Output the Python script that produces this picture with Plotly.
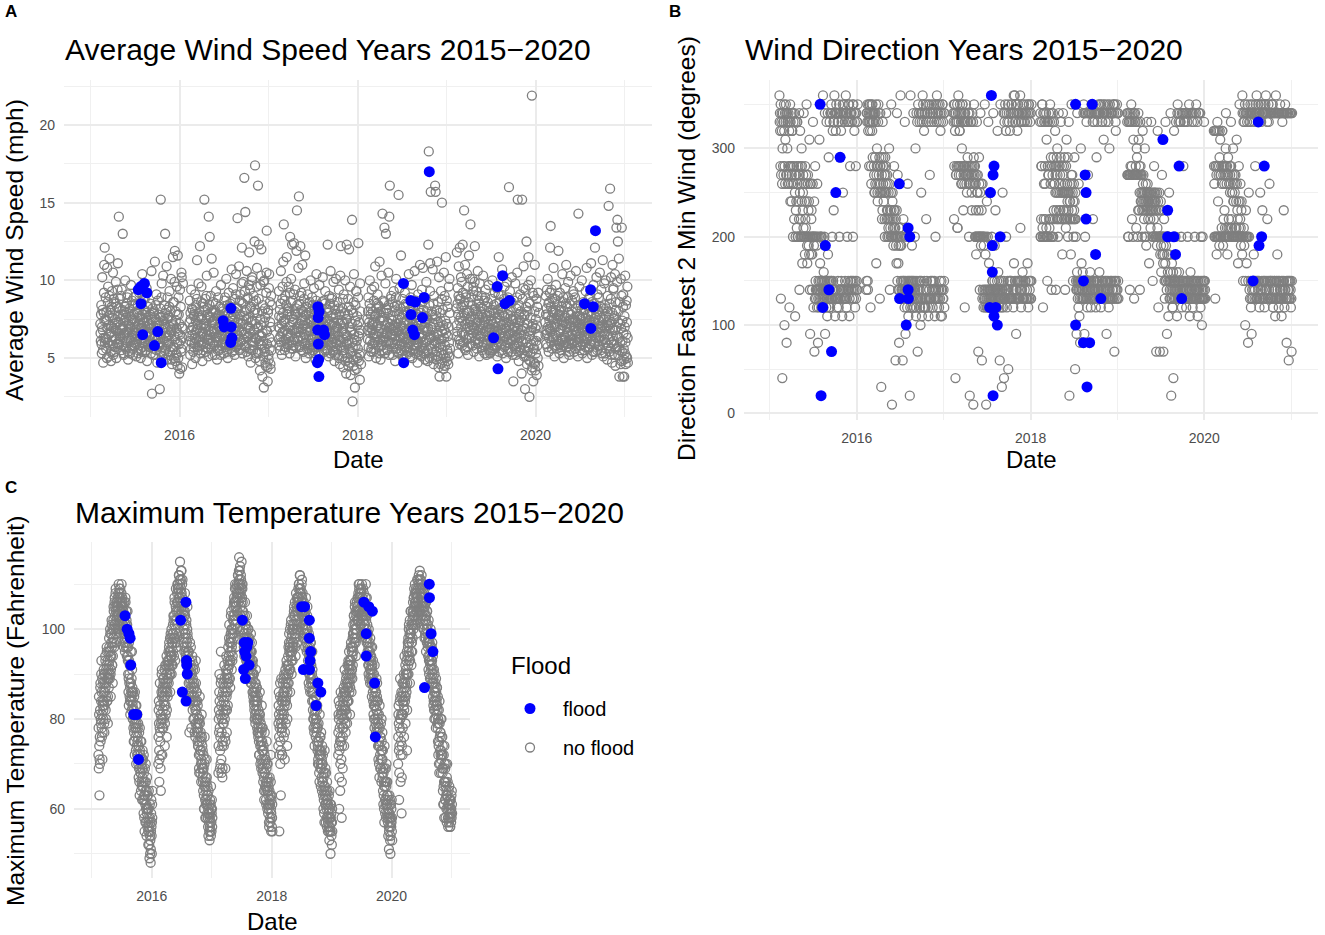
import numpy as np
import pandas as pd
import plotly.graph_objects as go

# ---------------- style ----------------
FONT = "Liberation Sans, Arial, sans-serif"
GRAY = "#7F7F7F"
BLUE = "#0000FF"
TICK_COLOR = "#4D4D4D"
GRID_MAJOR = "#EBEBEB"
GRID_MINOR = "#F0F0F0"

# ---------------- data ----------------
YEARS = [2015, 2016, 2017, 2018, 2019, 2020]
SEASON_START = "02-10"  # first daily reading kept for each year
STEP_DAYS = 1

# A: average wind speed (mph), daily from SEASON_START
WIND_2015 = [7.2, 6.6, 6.1, 7.8, 8.4, 5.9, 5.3, 7.0, 10.2, 8.1, 6.8, 5.5, 4.7, 6.3, 7.9, 9.2, 11.0, 7.4, 12.1, 6.0,
             6.3, 7.5, 8.9, 6.2, 5.6, 8.0, 7.4, 5.0, 10.8, 6.9, 6.0, 8.6, 9.6, 7.1, 5.1, 6.5, 7.7, 9.0, 11.4, 5.8,
             6.6, 7.9, 8.1, 5.4, 4.8, 6.7, 7.0, 8.3, 9.3, 6.1, 5.8, 7.6, 10.5, 5.2, 6.9, 8.8, 8.6, 6.4, 5.4, 7.2,
             7.5, 5.7, 6.2, 8.5, 9.9, 6.8, 5.0, 7.3, 8.3, 5.9, 6.7, 9.4, 11.1, 6.0, 7.3, 8.2, 14.1, 6.6, 5.9, 7.7,
             8.8, 6.2, 6.4, 7.5, 7.1, 9.0, 5.5, 6.8, 9.4, 5.8, 6.9, 8.1, 13.0, 7.0, 7.8, 5.3, 5.2, 6.6, 8.0, 7.4,
             6.5, 8.3, 10.0, 6.0, 7.6, 5.6, 5.7, 7.9, 8.5, 6.7, 6.1, 8.9, 9.1, 5.4, 4.9, 7.1, 7.2, 6.3, 6.8, 8.0,
             8.2, 6.9, 5.3, 7.7, 7.0, 6.1, 9.7, 5.8, 6.3, 7.4, 8.7, 6.5, 5.6, 8.4, 7.5, 5.2, 6.0, 7.8, 8.9, 6.6,
             5.8, 7.0, 7.4, 6.2, 6.6, 8.5, 9.0, 5.9, 5.1, 6.8, 7.9, 6.0, 6.4, 7.6, 8.4, 5.3, 5.5, 7.2, 7.1, 8.1,
             9.2, 6.4, 6.2, 7.5, 7.7, 5.6, 5.0, 6.9, 8.6, 7.1, 6.9, 5.4, 10.4, 7.8, 5.7, 6.3, 7.3, 8.8, 8.1, 6.0,
             6.0, 7.3, 8.8, 6.1, 5.4, 8.0, 7.6, 5.5, 6.5, 7.9, 9.5, 6.6, 4.8, 7.4, 7.0, 5.8, 8.3, 6.7, 5.9, 7.1,
             3.9, 6.4, 7.2, 5.7, 6.1, 7.8, 8.5, 6.0, 5.3, 6.9, 10.6, 7.5, 2.7, 5.9, 6.8, 8.2, 7.9, 5.2, 5.6, 7.0,
             8.0, 5.8, 6.4, 7.6, 11.2, 6.3, 5.2, 8.4, 7.5, 6.1, 9.1, 5.5, 6.7, 7.3, 4.7, 6.9, 8.7, 5.9, 6.2, 7.8,
             7.3, 6.0, 5.8, 7.1, 3.0, 6.5, 8.2, 5.4, 15.2, 7.6, 6.6, 8.9, 9.8, 5.7, 5.1, 6.8, 7.7, 6.2, 10.3, 7.4,
             6.9, 5.3, 8.4, 7.2, 5.5, 6.6, 13.0, 7.9, 7.0, 5.6, 6.3, 8.1, 10.9, 6.0, 4.9, 7.5, 8.9, 6.4, 5.9, 7.7,
             7.6, 5.2, 6.1, 8.3, 9.3, 6.5, 5.4, 7.0, 8.0, 5.7, 10.1, 6.8, 6.7, 4.9, 4.6, 7.4, 7.2, 5.5, 11.5, 8.6,
             5.7, 7.1, 8.6, 5.0, 6.4, 9.9, 11.9, 6.2, 4.8, 8.0, 7.4, 5.3, 5.2, 6.9, 9.6, 7.8, 6.0, 4.5, 11.6, 6.6,
             5.0, 8.9, 7.8, 5.9, 4.0, 7.2, 6.5, 9.4, 4.3, 6.1, 8.3, 5.4, 5.6, 10.5, 10.2, 7.0, 4.4, 6.3, 6.9, 9.8]
WIND_2016 = [6.4, 7.3, 8.7, 6.1, 5.2, 7.9, 7.5, 5.6, 9.4, 6.8, 6.0, 8.2, 4.6, 6.5, 8.1, 7.0, 7.0, 5.4, 5.7, 7.7,
             7.8, 5.9, 6.3, 8.0, 9.1, 6.6, 5.0, 7.4, 8.4, 6.2, 6.8, 8.8, 11.3, 5.7, 7.2, 6.9, 5.5, 7.6, 9.8, 6.0,
             6.1, 7.7, 8.0, 5.8, 12.2, 6.4, 5.3, 7.1, 7.6, 8.6, 9.6, 6.0, 6.6, 7.5, 4.8, 6.7, 8.5, 5.5, 7.1, 8.3,
             5.9, 7.2, 15.2, 6.3, 6.9, 8.1, 8.8, 5.7, 5.4, 7.0, 7.4, 9.0, 10.3, 6.5, 6.2, 7.8, 8.2, 5.6, 5.1, 6.8,
             14.1, 6.1, 7.7, 8.4, 12.8, 5.9, 6.5, 7.6, 9.0, 6.3, 5.6, 8.0, 11.4, 6.7, 7.3, 5.2, 6.0, 7.9, 8.6, 6.9,
             10.5, 7.4, 6.7, 5.8, 8.1, 6.6, 5.2, 7.2, 7.9, 8.5, 9.3, 6.0, 6.3, 7.7, 4.9, 6.4, 7.5, 5.5, 8.9, 7.0,
             6.1, 7.8, 7.0, 5.6, 5.5, 6.9, 8.3, 7.3, 6.8, 5.2, 9.7, 6.5, 5.8, 8.2, 7.6, 6.0, 6.4, 7.5, 8.0, 5.9,
             7.3, 6.2, 5.3, 7.7, 8.7, 6.0, 6.5, 8.9, 7.9, 5.7, 5.9, 7.1, 10.1, 6.6, 6.9, 5.4, 8.4, 7.2, 5.0, 6.3,
             6.6, 7.9, 9.2, 5.8, 7.1, 6.4, 5.6, 8.3, 8.5, 7.0, 6.2, 5.9, 7.7, 6.8, 10.7, 7.4, 5.4, 6.1, 8.1, 7.6,
             9.5, 6.9, 6.0, 7.8, 7.4, 5.5, 5.2, 8.0, 8.8, 6.3, 6.7, 9.1, 10.4, 5.7, 7.0, 8.2, 5.8, 6.5, 14.0, 7.3,
             8.2, 5.9, 6.4, 7.5, 10.9, 6.8, 5.5, 8.7, 7.8, 6.0, 9.1, 7.2, 6.1, 5.6, 8.6, 9.8, 12.1, 6.7, 5.3, 7.4,
             7.2, 8.5, 9.9, 6.2, 6.5, 7.7, 16.6, 5.8, 8.0, 9.3, 14.4, 6.6, 5.7, 8.1, 7.5, 5.4, 10.6, 7.0, 6.3, 8.8,
             8.9, 6.4, 5.1, 7.6, 7.0, 9.7, 11.8, 5.6, 6.6, 8.2, 9.4, 6.9, 4.7, 7.3, 8.3, 5.5, 6.0, 10.0, 10.2, 6.1,
             7.4, 6.0, 5.5, 8.6, 9.0, 5.8, 6.8, 7.9, 12.5, 6.3, 17.4, 8.1, 5.0, 7.2, 8.7, 5.3, 6.2, 9.6, 10.8, 6.9,
             7.9, 5.4, 16.1, 7.0, 5.3, 8.8, 12.3, 6.1, 6.5, 4.8, 4.2, 7.5, 9.7, 5.9, 7.1, 10.3, 12.0, 6.4, 5.8, 8.0,
             3.8, 6.6, 8.4, 5.1, 6.1, 9.9, 3.1, 7.3, 10.0, 5.6, 5.4, 8.2, 7.6, 4.7, 4.5, 6.8, 9.2, 10.5, 13.2, 5.9,
             6.7, 4.4, 3.5, 7.9, 8.1, 5.2, 4.9, 9.5, 10.4, 6.3, 5.6, 8.6, 7.3, 4.6, 4.3, 7.0, 9.0, 5.5, 6.0, 8.4]
WIND_2017 = [7.0, 6.2, 9.3, 7.7, 5.8, 6.9, 8.1, 5.5, 6.4, 8.5, 10.6, 6.0, 7.6, 7.2, 5.2, 6.6, 8.8, 9.6, 6.7, 7.9,
             11.2, 7.4, 13.6, 6.1, 7.3, 8.7, 5.5, 6.8, 9.0, 7.5, 6.2, 5.7, 8.4, 9.9, 11.5, 6.5, 5.9, 8.0, 7.8, 6.3,
             6.6, 8.2, 9.6, 5.9, 8.0, 7.0, 5.3, 9.2, 12.8, 6.4, 7.1, 8.6, 10.1, 5.6, 6.0, 7.7, 12.3, 6.8, 8.7, 5.8,
             5.6, 7.3, 7.5, 9.1, 12.4, 6.2, 6.8, 8.0, 9.4, 6.6, 5.1, 7.8, 8.2, 5.7, 11.9, 6.9, 14.5, 8.4, 7.0, 6.1,
             6.3, 7.9, 10.8, 6.7, 15.4, 5.8, 8.5, 7.2, 5.7, 9.0, 12.2, 6.4, 7.4, 8.1, 9.2, 5.5, 6.1, 7.6, 11.0, 6.9,
             8.0, 6.3, 5.4, 7.1, 7.7, 8.8, 9.8, 5.9, 6.5, 7.4, 11.6, 6.0, 5.0, 7.8, 8.3, 6.7, 6.9, 5.6, 7.2, 8.5,
             9.1, 7.0, 6.0, 8.2, 7.9, 5.6, 5.3, 6.8, 8.6, 7.5, 6.7, 5.9, 10.0, 7.3, 5.8, 8.0, 7.4, 6.2, 8.9, 5.5,
             6.2, 8.4, 7.6, 5.7, 5.5, 7.2, 9.5, 6.5, 6.9, 7.8, 8.1, 5.3, 4.9, 6.6, 7.0, 8.7, 10.4, 6.0, 6.4, 7.4,
             8.4, 6.8, 5.7, 7.9, 7.2, 5.4, 6.1, 8.3, 9.7, 6.4, 5.2, 7.0, 8.0, 5.8, 6.6, 7.7, 7.5, 6.0, 5.9, 8.6,
             7.8, 6.5, 10.2, 7.3, 6.3, 5.8, 8.7, 6.9, 5.4, 7.6, 7.1, 8.5, 9.3, 5.5, 6.0, 7.0, 8.2, 6.2, 5.6, 7.4,
             6.8, 5.5, 12.3, 7.9, 7.4, 6.1, 5.1, 8.1, 9.0, 6.7, 6.5, 7.2, 8.5, 5.3, 10.6, 6.4, 5.8, 8.8, 7.7, 6.0,
             8.9, 7.1, 6.2, 5.4, 5.5, 7.6, 9.9, 6.3, 7.3, 8.4, 4.8, 6.6, 8.1, 5.2, 6.7, 7.8, 10.1, 6.0, 5.9, 7.0,
             7.0, 5.6, 8.6, 6.9, 5.2, 7.4, 6.4, 8.2, 9.4, 5.0, 7.8, 6.1, 4.6, 7.2, 10.3, 5.8, 12.2, 8.0, 6.0, 6.7,
             5.7, 7.3, 8.2, 5.1, 6.9, 8.8, 4.4, 6.2, 9.1, 5.5, 7.2, 6.6, 5.3, 7.9, 10.0, 4.8, 6.5, 7.5, 4.0, 6.0,
             12.3, 5.9, 7.5, 6.4, 5.0, 7.8, 8.8, 4.5, 6.1, 8.3, 12.0, 5.6, 4.7, 7.0, 9.6, 5.3, 3.9, 6.7, 6.8, 8.1,
             5.4, 7.2, 13.9, 6.0, 2.2, 5.7, 7.9, 4.9, 4.5, 8.6, 10.4, 6.5, 6.2, 4.2, 3.1, 7.4, 8.4, 5.8, 5.1, 9.3,
             9.3, 6.1, 4.3, 7.7, 7.1, 5.0, 5.6, 8.9, 12.4, 6.4, 4.8, 7.3, 6.6, 5.2, 3.6, 9.8, 8.0, 6.8, 5.3, 4.6]
WIND_2018 = [7.5, 6.8, 6.2, 8.0, 8.9, 5.7, 5.1, 7.3, 7.0, 8.5, 10.0, 6.1, 6.6, 7.8, 8.2, 5.4, 5.6, 6.9, 9.4, 7.2,
             6.8, 5.9, 8.0, 7.1, 5.4, 6.5, 7.3, 8.7, 9.6, 6.3, 6.0, 7.7, 10.9, 5.6, 7.8, 6.6, 5.0, 8.2, 8.5, 7.0,
             6.4, 7.9, 9.1, 6.0, 7.1, 8.4, 5.7, 6.7, 8.3, 5.3, 11.2, 7.4, 6.9, 6.2, 4.9, 8.0, 7.6, 5.8, 10.3, 6.6,
             5.8, 7.6, 14.3, 6.1, 8.7, 5.5, 6.3, 7.9, 7.4, 8.6, 13.4, 6.4, 5.3, 7.1, 9.8, 6.0, 13.0, 8.2, 6.7, 5.6,
             8.1, 6.6, 5.5, 7.3, 7.9, 6.0, 10.5, 8.4, 6.1, 5.2, 14.1, 7.0, 16.1, 6.5, 7.2, 8.8, 5.9, 6.9, 9.0, 7.5,
             6.5, 7.4, 8.6, 6.0, 5.2, 6.8, 7.7, 5.6, 9.3, 7.1, 6.2, 8.3, 8.0, 5.9, 4.8, 6.4, 7.0, 8.9, 10.1, 6.7,
             5.6, 7.2, 8.4, 6.1, 6.8, 5.4, 7.5, 8.0, 15.5, 6.7, 5.3, 7.8, 9.5, 5.8, 6.4, 7.0, 8.2, 6.3, 11.6, 5.5,
             7.1, 6.5, 5.9, 7.6, 8.8, 5.2, 6.3, 6.9, 4.9, 8.3, 7.8, 6.0, 5.5, 7.3, 9.2, 5.7, 6.6, 8.5, 8.0, 6.2,
             5.2, 6.8, 7.4, 5.6, 6.0, 7.9, 8.5, 6.3, 5.7, 7.2, 10.4, 5.9, 6.9, 8.1, 7.6, 5.1, 5.4, 6.6, 8.9, 7.0,
             6.1, 7.5, 9.7, 6.4, 5.0, 8.0, 7.2, 5.5, 8.3, 6.9, 6.5, 7.7, 5.8, 6.2, 10.6, 5.6, 7.0, 8.4, 5.3, 6.7,
             8.7, 5.8, 6.2, 7.4, 7.8, 6.0, 4.7, 6.9, 9.1, 5.4, 5.9, 8.2, 7.3, 6.5, 6.6, 7.9, 11.0, 5.2, 5.5, 7.1,
             7.9, 6.3, 5.1, 7.2, 9.4, 5.7, 6.4, 8.6, 10.8, 6.0, 8.1, 5.3, 5.6, 7.5, 7.0, 6.8, 6.0, 4.9, 8.8, 7.3,
             5.3, 7.7, 9.9, 6.1, 6.7, 8.0, 7.5, 5.5, 4.8, 6.9, 12.3, 7.4, 18.3, 6.2, 8.4, 5.0, 5.8, 9.3, 11.1, 6.5,
             15.7, 7.0, 6.3, 5.6, 8.0, 6.8, 5.0, 7.8, 10.7, 5.4, 7.2, 8.5, 4.6, 6.4, 9.0, 5.9, 6.1, 7.5, 16.1, 5.2,
             15.7, 6.0, 7.7, 4.9, 5.4, 8.1, 11.2, 6.5, 6.6, 5.1, 8.6, 7.3, 4.4, 6.2, 10.2, 5.7, 3.8, 7.9, 7.0, 4.6,
             5.9, 7.4, 9.3, 5.3, 6.2, 8.8, 15.0, 6.7, 4.7, 5.5, 8.1, 7.1, 5.2, 4.3, 10.5, 6.3, 6.8, 9.0, 4.5, 5.8,
             7.4, 5.0, 11.5, 6.6, 3.8, 7.2, 8.7, 4.8, 5.5, 8.3, 6.4, 5.3, 4.6, 7.0, 9.6, 6.0, 5.1, 10.1, 7.9, 5.6]
WIND_2019 = [8.2, 7.1, 11.8, 6.4, 6.7, 8.5, 9.5, 7.8, 5.3, 9.0, 10.9, 6.2, 7.4, 8.8, 12.1, 5.9, 6.1, 7.6, 8.8, 10.2,
             7.0, 8.3, 9.9, 6.6, 5.8, 7.4, 12.3, 9.2, 8.4, 6.0, 6.5, 7.9, 14.5, 8.6, 7.7, 5.6, 11.0, 7.2, 5.5, 8.9,
             9.1, 6.2, 6.9, 8.1, 10.4, 5.7, 7.9, 9.6, 5.2, 7.0, 8.6, 6.5, 11.6, 8.0, 6.3, 7.5, 7.3, 10.1, 13.6, 6.8,
             5.9, 7.7, 8.9, 6.3, 7.1, 8.4, 10.1, 5.8, 6.6, 9.3, 9.6, 7.0, 5.4, 6.9, 8.1, 9.9, 12.2, 6.1, 7.5, 8.2,
             6.2, 8.0, 9.3, 6.5, 5.6, 7.3, 7.8, 9.0, 10.6, 5.9, 6.8, 8.7, 8.5, 6.0, 5.1, 7.6, 9.8, 6.4, 7.2, 8.3,
             8.0, 6.9, 6.4, 7.8, 9.0, 5.5, 5.7, 8.2, 7.6, 6.6, 10.3, 7.1, 6.0, 5.8, 8.7, 7.3, 5.3, 6.7, 7.4, 8.9,
             9.4, 7.5, 6.7, 5.9, 5.2, 7.7, 8.3, 6.4, 7.0, 8.6, 6.1, 5.6, 9.7, 7.2, 5.5, 6.8, 8.0, 7.9, 6.9, 5.3,
             7.7, 6.0, 5.4, 7.4, 8.8, 6.9, 6.3, 5.5, 10.0, 8.1, 7.2, 6.2, 5.8, 7.9, 8.4, 5.6, 6.6, 7.0, 9.2, 6.5,
             5.6, 7.3, 7.9, 5.8, 6.2, 8.5, 9.5, 6.7, 5.1, 7.6, 8.1, 6.0, 7.0, 9.1, 11.5, 5.4, 6.5, 7.8, 8.6, 6.3,
             7.4, 8.2, 5.9, 6.6, 9.0, 7.1, 6.8, 5.5, 10.7, 7.9, 5.3, 6.4, 8.3, 7.2, 6.1, 8.8, 7.7, 5.7, 9.6, 6.9,
             6.4, 7.6, 8.5, 5.8, 5.0, 6.9, 7.3, 8.4, 9.9, 6.2, 6.0, 7.8, 8.9, 5.4, 5.6, 7.0, 16.0, 6.5, 7.1, 8.1,
             9.3, 5.9, 6.6, 7.7, 8.0, 6.1, 5.4, 8.6, 10.2, 6.8, 7.5, 5.2, 6.2, 7.4, 3.5, 6.4, 8.7, 7.0, 5.8, 6.7,
             7.0, 5.6, 9.8, 6.3, 5.2, 7.5, 8.2, 5.9, 6.5, 8.9, 10.5, 6.0, 15.2, 7.3, 6.9, 5.4, 4.8, 7.8, 8.4, 6.6,
             6.3, 7.4, 9.1, 5.7, 5.5, 8.0, 7.6, 6.1, 4.0, 6.8, 15.2, 5.3, 8.8, 7.0, 6.0, 9.5, 10.9, 6.5, 5.1, 7.7,
             7.8, 5.5, 3.0, 6.9, 9.4, 5.1, 6.2, 8.3, 12.5, 6.0, 4.6, 7.2, 8.0, 5.4, 5.7, 9.7, 11.5, 4.9, 6.7, 8.6,
             2.5, 6.4, 8.5, 4.8, 5.3, 7.6, 10.0, 5.9, 6.8, 4.2, 21.9, 7.0, 4.4, 9.2, 7.2, 5.6, 3.5, 6.1, 9.0, 4.7,
             5.6, 8.0, 11.0, 4.6, 4.2, 6.9, 7.5, 5.3, 6.1, 8.8, 3.9, 7.1, 8.3, 5.8, 5.0, 6.5, 9.2, 4.5, 6.4, 7.9]
WIND_2020 = [7.3, 6.5, 9.0, 7.8, 5.9, 6.8, 8.2, 9.4, 6.6, 5.7, 10.1, 7.0, 7.7, 8.5, 5.4, 6.3, 8.6, 7.4, 6.9, 9.2,
             12.1, 6.7, 13.5, 8.3, 7.1, 6.0, 9.4, 7.6, 5.6, 8.8, 8.0, 6.4, 6.3, 7.9, 10.8, 5.8, 7.5, 8.6, 5.1, 7.0,
             8.8, 7.2, 6.5, 8.1, 9.7, 6.2, 7.0, 5.6, 5.8, 7.4, 8.4, 9.0, 6.1, 7.7, 11.9, 6.6, 7.8, 5.9, 5.3, 8.0,
             9.2, 7.5, 6.8, 5.7, 8.1, 6.9, 5.5, 8.3, 7.4, 6.1, 10.4, 7.1, 6.2, 8.6, 8.9, 5.8, 5.0, 7.3, 7.6, 6.4,
             6.0, 7.7, 9.5, 6.3, 7.2, 8.5, 11.0, 5.9, 5.7, 7.0, 8.3, 6.6, 6.7, 8.9, 9.9, 6.1, 7.9, 5.4, 5.2, 7.4,
             8.5, 7.0, 6.4, 5.6, 10.3, 7.8, 7.1, 6.2, 5.9, 8.0, 8.7, 6.5, 6.0, 7.3, 7.5, 9.3, 9.1, 6.8, 5.4, 7.6,
             7.0, 6.1, 8.9, 7.4, 5.6, 8.2, 10.6, 6.7, 6.5, 5.8, 8.0, 7.7, 7.3, 6.0, 5.1, 8.4, 14.3, 6.9, 6.2, 7.1,
             9.6, 6.6, 7.7, 5.5, 5.8, 7.5, 8.4, 6.3, 6.9, 8.1, 10.0, 7.0, 5.3, 6.8, 7.2, 5.9, 8.6, 7.9, 6.1, 6.4,
             5.5, 7.2, 8.1, 6.0, 7.0, 5.7, 9.3, 7.6, 6.3, 8.4, 10.8, 6.2, 5.0, 7.3, 7.8, 6.9, 6.6, 5.6, 8.8, 7.1,
             7.4, 6.5, 5.7, 8.0, 9.0, 5.9, 6.4, 7.7, 11.1, 6.1, 7.9, 8.6, 5.2, 6.7, 8.3, 7.0, 6.8, 5.4, 9.7, 7.5,
             6.0, 7.3, 8.5, 6.6, 12.1, 5.9, 5.4, 8.2, 7.6, 6.3, 10.2, 7.8, 6.7, 5.5, 9.1, 6.9, 5.8, 8.0, 7.2, 6.1,
             8.9, 7.4, 6.3, 5.8, 10.5, 6.9, 7.0, 8.3, 5.5, 6.4, 9.4, 7.6, 6.1, 5.3, 8.0, 7.1, 11.3, 6.7, 5.1, 8.2,
             7.5, 6.2, 9.8, 7.0, 6.6, 8.4, 5.3, 6.0, 10.0, 7.7, 8.2, 5.6, 6.9, 7.3, 4.9, 6.5, 9.0, 8.0, 7.1, 5.8,
             14.8, 7.6, 6.2, 5.4, 8.5, 6.9, 15.9, 7.2, 5.6, 8.8, 10.2, 6.0, 7.3, 5.2, 4.7, 7.9, 11.0, 6.4, 6.8, 9.4,
             9.5, 6.1, 5.9, 7.5, 7.7, 5.2, 10.4, 6.8, 4.5, 8.6, 8.1, 5.6, 13.4, 7.0, 6.4, 9.9, 13.9, 5.7, 12.5, 7.3,
             5.2, 8.0, 11.4, 6.3, 3.8, 5.5, 8.6, 7.2, 6.0, 4.6, 10.1, 6.9, 4.8, 9.0, 13.4, 5.4, 7.4, 6.1, 3.8, 8.3,
             9.1, 6.6, 5.6, 4.9, 3.8, 7.7, 7.0, 5.3, 10.3, 6.0, 4.6, 8.4, 6.5, 5.1, 8.7, 7.3, 5.0, 9.6, 6.3, 4.7]

# B: direction of fastest 2 min wind (degrees), daily
DIR_2015 = [360, 330, 340, 320, 280, 350, 130, 270, 330, 340, 320, 260, 40, 300, 340, 280, 330, 270, 330, 350, 320, 100, 280, 340, 260, 310, 330, 350, 270, 340,
            80, 270, 340, 300, 330, 260, 330, 280, 340, 270, 260, 320, 120, 330, 280, 350, 240, 330, 280, 260, 340, 240, 270, 320, 320, 280, 340, 200, 260, 330,
            260, 280, 220, 340, 270, 250, 110, 330, 200, 230, 270, 240, 280, 210, 330, 330, 260, 200, 200, 240, 280, 270, 220, 340, 140, 270, 250, 320, 200, 280,
            220, 260, 200, 300, 240, 280, 170, 200, 230, 250, 270, 210, 340, 260, 200, 200, 240, 180, 280, 220, 260, 210, 270, 200, 350, 240, 190, 170, 200, 260,
            270, 200, 230, 190, 240, 180, 310, 200, 140, 90, 260, 200, 260, 180, 220, 230, 200, 140, 180, 200, 260, 330, 200, 120, 200, 190, 240, 70, 200, 130,
            280, 200, 150, 140, 130, 200, 190, 140, 120, 260, 200, 140, 80, 130, 150, 120, 200, 140, 310, 130, 150, 170, 140, 200, 200, 130, 120, 150, 200, 140,
            130, 150, 140, 360, 130, 120, 160, 140, 150, 200, 130, 340, 90, 150, 140, 140, 130, 120, 330, 140, 150, 110, 130, 340, 180, 140, 150, 290, 130, 120,
            140, 330, 150, 120, 340, 130, 340, 150, 350, 150, 130, 340, 200, 140, 320, 130, 150, 330, 230, 140, 330, 360, 130, 340, 110, 140, 340, 320, 130, 350,
            130, 340, 120, 340, 130, 330, 150, 130, 330, 120, 140, 350, 200, 130, 340, 290, 340, 130, 140, 320, 150, 330, 140, 340, 110, 130, 350, 250, 140, 340,
            340, 130, 350, 130, 140, 330, 150, 340, 130, 360, 140, 340, 120, 130, 340, 200, 140, 330, 140, 150, 350, 330, 140, 350, 110, 130, 340, 280, 150, 330,
            140, 340, 150, 340, 140, 330, 130, 150, 350, 200, 140, 350, 150, 130, 340, 320, 140, 330, 120, 150, 340, 280, 130, 340, 140, 150, 330, 330, 140, 350]
DIR_2016 = [140, 150, 340, 340, 330, 350, 150, 140, 320, 330, 340, 350, 280, 330, 340, 350, 320, 330, 120, 340, 280, 260, 350, 330, 340, 320, 350, 290, 330, 340,
            330, 340, 280, 270, 250, 340, 250, 290, 260, 340, 330, 350, 170, 270, 280, 300, 260, 250, 240, 280, 330, 350, 340, 270, 260, 290, 250, 130, 280, 340,
            280, 260, 250, 30, 290, 270, 220, 250, 230, 330, 280, 260, 290, 240, 280, 250, 270, 220, 200, 250, 290, 270, 260, 280, 340, 250, 220, 230, 270, 200,
            260, 230, 220, 210, 250, 200, 300, 220, 260, 140, 230, 210, 220, 200, 250, 350, 230, 200, 10, 220, 240, 250, 210, 200, 190, 220, 230, 280, 210, 200,
            230, 200, 210, 60, 220, 190, 200, 170, 230, 340, 200, 150, 270, 200, 140, 170, 190, 210, 80, 140, 200, 210, 130, 190, 360, 200, 150, 190, 140, 200,
            130, 140, 150, 60, 130, 140, 220, 150, 130, 150, 140, 120, 330, 140, 130, 90, 150, 140, 200, 130, 140, 140, 120, 150, 260, 130, 140, 110, 150, 130,
            140, 130, 150, 20, 140, 120, 360, 150, 130, 130, 140, 150, 190, 120, 140, 150, 130, 140, 340, 150, 120, 120, 140, 130, 200, 150, 140, 300, 130, 110,
            120, 340, 130, 150, 330, 140, 70, 130, 350, 130, 140, 340, 340, 150, 330, 140, 120, 150, 100, 130, 340, 250, 150, 330, 110, 130, 340, 360, 120, 350,
            140, 330, 120, 320, 150, 340, 130, 340, 120, 120, 350, 130, 220, 140, 330, 150, 130, 340, 340, 120, 350, 110, 130, 330, 130, 140, 350, 270, 130, 340,
            150, 340, 130, 130, 330, 150, 350, 140, 340, 120, 150, 340, 140, 130, 350, 330, 140, 150, 110, 130, 340, 200, 140, 350, 140, 130, 330, 360, 120, 340,
            130, 350, 140, 340, 130, 330, 120, 140, 350, 150, 130, 340, 320, 110, 330, 140, 150, 340, 110, 140, 350, 350, 130, 330, 130, 140, 340, 150, 120, 340]
DIR_2017 = [340, 330, 350, 220, 280, 340, 350, 320, 330, 40, 340, 270, 270, 330, 280, 330, 350, 210, 210, 340, 280, 360, 330, 270, 280, 340, 320, 320, 350, 280,
            340, 270, 330, 260, 280, 340, 300, 260, 350, 350, 330, 280, 230, 270, 340, 280, 260, 330, 120, 280, 340, 330, 270, 350, 270, 260, 280, 250, 330, 270,
            290, 270, 330, 340, 280, 260, 200, 270, 340, 20, 280, 260, 260, 330, 270, 330, 280, 250, 230, 270, 340, 280, 260, 330, 10, 270, 290, 350, 280, 260,
            270, 280, 200, 200, 260, 230, 180, 200, 270, 330, 250, 200, 250, 270, 200, 70, 230, 200, 290, 260, 200, 140, 200, 250, 340, 200, 190, 200, 260, 230,
            60, 200, 130, 260, 140, 200, 200, 120, 190, 130, 200, 140, 350, 130, 120, 180, 140, 200, 10, 130, 120, 240, 140, 130, 120, 200, 140, 330, 130, 120,
            170, 130, 140, 140, 120, 130, 250, 140, 130, 130, 140, 120, 200, 130, 150, 150, 120, 140, 340, 130, 120, 120, 140, 150, 190, 130, 140, 230, 120, 140,
            140, 130, 120, 120, 150, 140, 320, 140, 130, 160, 130, 140, 130, 150, 120, 60, 140, 130, 350, 130, 140, 150, 130, 120, 30, 140, 130, 250, 140, 120,
            130, 340, 150, 40, 130, 330, 340, 130, 350, 140, 130, 320, 200, 140, 340, 120, 140, 330, 150, 130, 350, 50, 140, 340, 330, 150, 130, 130, 320, 150,
            150, 340, 130, 130, 350, 150, 350, 130, 330, 140, 130, 340, 120, 140, 360, 170, 130, 340, 360, 150, 330, 130, 140, 350, 90, 130, 340, 140, 150, 320,
            130, 350, 150, 340, 130, 330, 150, 130, 340, 140, 150, 360, 210, 140, 330, 120, 150, 340, 330, 140, 350, 160, 130, 340, 130, 150, 330, 350, 130, 340,
            140, 330, 150, 150, 340, 130, 340, 130, 350, 130, 140, 330, 170, 130, 340, 120, 150, 350, 350, 130, 340, 140, 150, 330, 150, 130, 340, 130, 150, 350]
DIR_2018 = [330, 340, 200, 200, 220, 280, 280, 330, 350, 350, 210, 200, 120, 340, 200, 220, 260, 330, 340, 200, 280, 260, 330, 220, 200, 340, 210, 310, 200, 330,
            150, 200, 280, 330, 270, 200, 270, 340, 220, 210, 280, 330, 350, 220, 260, 290, 200, 340, 140, 280, 330, 200, 270, 220, 340, 200, 290, 230, 330, 260,
            280, 260, 220, 320, 250, 270, 140, 280, 230, 250, 290, 220, 300, 270, 220, 200, 250, 280, 340, 230, 260, 220, 280, 250, 270, 230, 290, 330, 260, 220,
            250, 220, 280, 180, 250, 270, 340, 230, 250, 230, 280, 220, 290, 250, 260, 140, 220, 250, 210, 280, 230, 310, 250, 220, 260, 240, 290, 200, 250, 230,
            330, 250, 220, 20, 240, 260, 240, 220, 250, 180, 220, 270, 350, 260, 230, 270, 220, 250, 150, 240, 200, 220, 260, 230, 290, 240, 220, 50, 250, 220,
            200, 150, 140, 90, 140, 160, 340, 150, 130, 150, 140, 120, 260, 150, 140, 110, 130, 150, 80, 140, 150, 300, 150, 130, 170, 140, 150, 140, 130, 160,
            130, 140, 340, 350, 130, 150, 90, 140, 340, 200, 150, 130, 150, 340, 140, 330, 130, 150, 120, 140, 340, 270, 150, 130, 140, 340, 150, 340, 130, 150,
            160, 140, 340, 120, 150, 130, 350, 340, 140, 140, 130, 330, 220, 150, 140, 130, 340, 150, 330, 140, 130, 150, 340, 140, 120, 130, 340, 290, 150, 340,
            140, 330, 150, 340, 140, 350, 130, 140, 340, 160, 150, 130, 350, 340, 140, 120, 130, 350, 150, 140, 330, 330, 150, 340, 140, 130, 350, 310, 140, 340,
            130, 340, 150, 350, 140, 330, 150, 130, 340, 90, 140, 150, 340, 130, 350, 140, 150, 330, 120, 130, 340, 300, 140, 350, 150, 130, 340, 130, 150, 340,
            340, 130, 150, 140, 340, 130, 130, 350, 140, 350, 150, 340, 70, 130, 350, 150, 140, 330, 320, 150, 340, 140, 130, 350, 130, 140, 340, 340, 150, 130]
DIR_2019 = [340, 330, 270, 270, 340, 200, 200, 270, 330, 330, 340, 270, 140, 270, 330, 280, 340, 270, 350, 330, 280, 220, 270, 340, 270, 330, 200, 310, 270, 340,
            130, 270, 330, 270, 340, 270, 330, 280, 270, 210, 270, 300, 290, 270, 330, 200, 270, 230, 340, 310, 270, 230, 280, 250, 140, 270, 330, 280, 240, 270,
            250, 240, 270, 200, 230, 250, 320, 260, 240, 270, 230, 250, 220, 240, 200, 300, 250, 230, 240, 260, 200, 190, 240, 250, 330, 230, 250, 260, 240, 220,
            240, 250, 230, 170, 240, 250, 250, 230, 220, 210, 240, 250, 330, 230, 240, 230, 250, 200, 150, 240, 230, 200, 250, 220, 280, 240, 250, 240, 230, 200,
            250, 240, 200, 70, 230, 200, 190, 250, 210, 320, 200, 240, 120, 200, 230, 230, 250, 200, 70, 200, 180, 200, 240, 190, 160, 200, 230, 270, 200, 180,
            180, 200, 170, 70, 190, 200, 220, 180, 150, 130, 200, 170, 330, 150, 190, 150, 200, 140, 90, 180, 200, 200, 160, 150, 110, 200, 180, 250, 150, 130,
            140, 150, 130, 340, 160, 150, 20, 140, 130, 170, 150, 120, 120, 140, 160, 40, 150, 130, 320, 140, 150, 150, 130, 140, 200, 150, 330, 130, 140, 160,
            110, 140, 340, 350, 130, 150, 140, 330, 130, 160, 150, 340, 130, 140, 330, 330, 150, 130, 200, 140, 340, 120, 150, 130, 150, 340, 140, 280, 150, 330,
            130, 340, 150, 140, 130, 330, 340, 150, 140, 120, 130, 340, 150, 140, 330, 200, 130, 150, 130, 340, 140, 350, 150, 130, 110, 140, 340, 160, 130, 150,
            140, 130, 340, 330, 150, 140, 120, 340, 130, 130, 150, 330, 150, 140, 340, 200, 130, 150, 140, 130, 340, 350, 140, 150, 130, 140, 330, 110, 150, 140,
            150, 130, 340, 340, 140, 130, 130, 150, 340, 120, 130, 200, 140, 150, 130, 100, 130, 140, 200, 150, 130, 130, 140, 150, 330, 130, 150, 150, 140, 130]
DIR_2020 = [320, 280, 260, 200, 320, 200, 130, 280, 320, 280, 200, 270, 180, 320, 200, 330, 280, 200, 240, 320, 270, 200, 280, 190, 290, 320, 200, 310, 270, 200,
            270, 280, 200, 210, 260, 320, 320, 280, 200, 190, 270, 220, 280, 200, 260, 230, 280, 210, 200, 270, 300, 340, 280, 200, 260, 210, 280, 180, 270, 200,
            290, 270, 210, 220, 260, 200, 200, 280, 250, 270, 210, 260, 330, 280, 220, 210, 200, 250, 250, 270, 200, 300, 240, 260, 240, 200, 270, 200, 250, 210,
            260, 270, 200, 200, 240, 210, 310, 260, 200, 230, 200, 220, 170, 200, 240, 280, 210, 200, 350, 240, 200, 220, 260, 210, 190, 200, 230, 240, 200, 180,
            360, 340, 200, 150, 200, 330, 210, 340, 190, 330, 200, 350, 100, 150, 340, 230, 200, 340, 170, 200, 330, 340, 350, 200, 80, 150, 340, 250, 200, 330,
            140, 340, 130, 330, 350, 150, 120, 340, 130, 90, 340, 140, 350, 130, 340, 150, 340, 140, 180, 330, 150, 130, 340, 140, 280, 150, 350, 340, 130, 150,
            360, 340, 130, 130, 340, 150, 150, 350, 140, 340, 130, 150, 120, 340, 130, 250, 140, 350, 140, 330, 130, 350, 150, 340, 230, 140, 340, 130, 150, 350,
            340, 130, 150, 120, 340, 140, 150, 350, 130, 360, 140, 340, 140, 150, 330, 220, 130, 340, 130, 150, 350, 330, 140, 340, 260, 130, 150, 150, 340, 130,
            130, 340, 150, 350, 130, 340, 140, 150, 350, 120, 340, 130, 340, 140, 150, 150, 340, 130, 110, 140, 340, 360, 150, 130, 130, 340, 150, 180, 140, 340,
            340, 130, 150, 120, 340, 130, 150, 340, 140, 350, 130, 140, 130, 340, 150, 110, 130, 340, 330, 140, 150, 140, 340, 130, 230, 150, 340, 120, 140, 340,
            350, 140, 130, 130, 340, 150, 80, 130, 340, 340, 150, 130, 140, 340, 150, 60, 140, 130, 150, 340, 130, 340, 150, 140, 120, 340, 130, 70, 150, 340]

# C: maximum temperature (F), daily
TMAX_2015 = [72, 78, 69, 85, 81, 74, 63, 71, 76, 70, 82, 87, 88, 75, 80, 79, 84, 90, 93, 86, 78, 76, 81, 89, 71, 77, 84, 83, 88, 80,
             82, 86, 91, 90, 84, 79, 77, 83, 88, 86, 90, 94, 93, 87, 82, 80, 85, 91, 88, 92, 96, 95, 89, 84, 84, 90, 93, 79, 85, 89,
             91, 95, 89, 87, 92, 98, 96, 90, 93, 89, 95, 100, 99, 94, 90, 85, 91, 97, 94, 99, 102, 101, 96, 92, 92, 97, 100, 88, 94, 98,
             98, 102, 105, 104, 100, 97, 96, 101, 106, 107, 103, 99, 101, 105, 108, 109, 104, 100, 97, 102, 106, 103, 99, 105, 106, 101, 104, 100, 107, 103,
             105, 108, 103, 110, 106, 101, 102, 107, 109, 108, 104, 100, 104, 109, 106, 107, 102, 105, 99, 104, 108, 110, 106, 102, 103, 107, 105, 106, 101, 104,
             101, 104, 99, 105, 100, 96, 97, 102, 106, 103, 98, 95, 99, 103, 107, 106, 101, 97, 96, 100, 104, 102, 98, 94, 98, 101, 96, 104, 99, 93,
             94, 90, 96, 86, 89, 83, 97, 93, 88, 90, 85, 92, 84, 87, 81, 92, 88, 95, 88, 84, 86, 85, 89, 82, 95, 91, 86, 87, 83, 80,
             84, 80, 86, 78, 82, 75, 82, 77, 85, 75, 79, 72, 86, 81, 78, 80, 76, 83, 73, 78, 70, 83, 79, 74, 77, 81, 72, 81, 75, 78,
             76, 72, 79, 70, 74, 67, 74, 69, 77, 66, 71, 63, 78, 73, 69, 72, 68, 75, 68, 64, 71, 75, 70, 66, 65, 69, 62, 71, 67, 73,
             69, 65, 71, 62, 66, 59, 72, 68, 63, 58, 62, 55, 66, 69, 63, 61, 57, 64, 70, 66, 60, 57, 61, 54, 64, 59, 67, 60, 56, 63,
             63, 58, 60, 55, 52, 57, 60, 64, 56, 52, 55, 49, 58, 61, 54, 50, 53, 57, 48, 51, 55, 59, 62, 56, 54, 50, 57, 61, 58, 64]
TMAX_2016 = [70, 76, 82, 84, 79, 73, 66, 71, 78, 88, 83, 77, 75, 69, 81, 64, 72, 79, 80, 86, 90, 91, 85, 78, 72, 80, 87, 86, 82, 89,
             78, 84, 88, 89, 85, 80, 83, 87, 91, 74, 79, 85, 92, 88, 83, 81, 86, 90, 87, 92, 94, 76, 82, 88, 90, 86, 93, 85, 89, 92,
             93, 89, 95, 88, 92, 96, 97, 93, 90, 91, 95, 98, 86, 90, 94, 99, 95, 92, 94, 98, 100, 90, 94, 97, 96, 92, 99, 92, 97, 101,
             95, 99, 103, 102, 98, 94, 98, 103, 107, 106, 101, 97, 93, 98, 102, 100, 105, 109, 104, 99, 96, 97, 102, 106, 108, 104, 110, 101, 106, 109,
             110, 106, 108, 104, 109, 112, 112, 107, 103, 107, 111, 105, 115, 110, 106, 103, 108, 111, 109, 113, 105, 113, 108, 104, 105, 110, 107, 111, 106, 102,
             106, 102, 99, 100, 104, 97, 103, 98, 95, 96, 101, 104, 108, 103, 99, 99, 95, 93, 94, 98, 101, 102, 96, 92, 97, 93, 100, 105, 99, 95,
             98, 94, 90, 91, 95, 88, 95, 91, 86, 77, 84, 89, 93, 97, 90, 88, 84, 92, 96, 91, 87, 78, 85, 90, 90, 86, 93, 94, 88, 82,
             89, 85, 91, 84, 80, 87, 92, 88, 83, 80, 85, 77, 87, 91, 84, 76, 82, 79, 93, 88, 84, 82, 78, 86, 86, 81, 77, 79, 84, 75,
             83, 78, 74, 74, 80, 77, 79, 72, 69, 68, 75, 80, 85, 79, 73, 72, 68, 76, 77, 73, 70, 66, 71, 75, 81, 76, 69, 70, 74, 67,
             73, 69, 66, 64, 68, 72, 69, 63, 60, 60, 65, 70, 76, 71, 66, 62, 58, 65, 67, 61, 64, 58, 62, 66, 71, 67, 61, 63, 59, 65,
             61, 58, 63, 56, 60, 54, 64, 59, 57, 59, 55, 61, 53, 58, 56, 62, 59, 55, 57, 61, 54, 65, 60, 57, 55, 59, 62, 60, 56, 58]
TMAX_2017 = [68, 74, 80, 82, 77, 86, 90, 84, 78, 69, 73, 81, 76, 70, 88, 95, 89, 83, 71, 68, 77, 85, 80, 74, 67, 69, 75, 79, 86, 82,
             88, 84, 79, 74, 81, 87, 92, 89, 85, 80, 76, 83, 69, 75, 82, 86, 91, 88, 94, 90, 85, 77, 82, 89, 90, 86, 93, 83, 88, 91,
             96, 92, 88, 89, 94, 98, 101, 97, 92, 93, 89, 95, 87, 93, 97, 99, 103, 98, 104, 100, 95, 91, 96, 100, 97, 93, 99, 94, 99, 102,
             103, 100, 105, 98, 102, 106, 107, 103, 99, 101, 106, 109, 110, 105, 101, 96, 102, 106, 105, 109, 107, 108, 104, 110, 100, 103, 107, 104, 108, 112,
             112, 108, 110, 106, 110, 113, 116, 111, 108, 109, 113, 107, 114, 110, 105, 103, 108, 112, 111, 106, 109, 115, 110, 107, 107, 104, 109, 110, 106, 103,
             104, 100, 97, 99, 102, 96, 102, 98, 94, 95, 99, 103, 106, 101, 97, 98, 94, 100, 101, 97, 93, 93, 98, 96, 103, 99, 95, 97, 92, 100,
             96, 93, 98, 100, 95, 91, 91, 94, 89, 98, 93, 97, 94, 90, 95, 89, 93, 88, 99, 95, 91, 92, 88, 95, 97, 93, 90, 90, 86, 92,
             93, 89, 85, 86, 90, 84, 90, 87, 83, 82, 86, 80, 88, 84, 81, 79, 85, 88, 91, 86, 82, 84, 80, 87, 87, 83, 78, 80, 84, 77,
             85, 80, 77, 76, 82, 78, 81, 75, 72, 72, 77, 80, 86, 81, 76, 74, 70, 78, 79, 75, 71, 69, 74, 77, 83, 78, 73, 75, 70, 68,
             78, 73, 69, 66, 71, 74, 73, 67, 64, 62, 68, 72, 77, 70, 65, 68, 64, 71, 71, 66, 62, 61, 65, 69, 75, 70, 66, 64, 60, 67,
             70, 64, 61, 59, 63, 66, 65, 60, 57, 56, 61, 64, 67, 62, 58, 61, 57, 63, 72, 66, 60, 55, 59, 62, 63, 58, 56, 58, 61, 55]
TMAX_2018 = [74, 79, 83, 86, 81, 76, 55, 72, 78, 80, 85, 88, 70, 75, 82, 63, 73, 79, 89, 84, 78, 77, 72, 81, 72, 78, 85, 84, 88, 80,
             82, 86, 89, 76, 81, 85, 90, 86, 83, 71, 77, 84, 87, 91, 88, 79, 84, 90, 85, 89, 93, 92, 87, 83, 74, 80, 86, 88, 92, 90,
             94, 90, 96, 88, 92, 97, 99, 95, 91, 91, 96, 100, 86, 91, 95, 97, 101, 94, 102, 98, 93, 90, 95, 99, 95, 100, 96, 93, 97, 101,
             100, 97, 103, 96, 100, 104, 105, 101, 98, 99, 103, 106, 103, 99, 96, 94, 98, 102, 108, 104, 100, 101, 105, 107, 97, 102, 106, 104, 100, 107,
             107, 104, 109, 103, 106, 110, 110, 107, 105, 105, 109, 112, 112, 108, 104, 101, 105, 109, 108, 104, 106, 106, 110, 107, 111, 107, 103, 104, 108, 106,
             104, 101, 98, 100, 104, 102, 106, 103, 99, 98, 102, 105, 103, 99, 96, 101, 104, 100, 107, 102, 98, 97, 100, 95, 102, 99, 103, 105, 100, 96,
             96, 93, 98, 91, 95, 88, 99, 94, 90, 87, 92, 96, 94, 90, 86, 89, 93, 97, 97, 92, 88, 92, 95, 89, 86, 90, 84, 95, 91, 88,
             86, 82, 89, 80, 84, 78, 84, 80, 86, 77, 81, 74, 88, 83, 79, 82, 78, 85, 76, 80, 83, 85, 80, 77, 79, 75, 82, 83, 78, 73,
             78, 74, 70, 71, 75, 79, 75, 70, 72, 68, 73, 66, 81, 76, 72, 73, 69, 76, 70, 65, 72, 77, 73, 69, 67, 71, 64, 74, 70, 66,
             70, 66, 72, 63, 68, 60, 67, 62, 65, 59, 64, 57, 73, 68, 63, 65, 61, 69, 61, 57, 64, 68, 63, 60, 58, 62, 56, 66, 61, 64,
             62, 58, 55, 57, 61, 59, 60, 56, 63, 55, 58, 53, 64, 60, 56, 58, 55, 61, 50, 55, 58, 61, 57, 59, 54, 57, 52, 57, 60, 55]
TMAX_2019 = [72, 77, 81, 84, 80, 74, 60, 67, 73, 78, 83, 75, 64, 70, 76, 86, 81, 79, 75, 71, 82, 58, 66, 74, 81, 85, 78, 69, 76, 83,
             80, 84, 78, 87, 82, 86, 74, 80, 85, 91, 86, 82, 83, 88, 79, 77, 82, 86, 89, 85, 90, 85, 81, 88, 79, 84, 87, 92, 88, 84,
             90, 87, 93, 84, 89, 92, 95, 91, 86, 88, 93, 90, 81, 87, 92, 93, 89, 96, 97, 93, 90, 86, 91, 95, 91, 96, 89, 94, 98, 92,
             99, 96, 101, 95, 99, 103, 103, 98, 100, 97, 102, 105, 106, 101, 98, 100, 104, 97, 94, 99, 103, 104, 100, 106, 98, 102, 105, 102, 107, 104,
             105, 102, 107, 108, 104, 110, 102, 106, 109, 110, 107, 104, 104, 108, 101, 107, 103, 109, 101, 105, 108, 109, 106, 103, 106, 110, 104, 103, 107, 105,
             106, 103, 109, 102, 105, 99, 108, 104, 101, 100, 103, 106, 105, 101, 98, 99, 103, 107, 110, 105, 102, 103, 100, 97, 107, 103, 99, 101, 98, 95,
             97, 94, 99, 92, 96, 90, 100, 95, 92, 89, 93, 97, 95, 91, 88, 98, 94, 90, 91, 96, 93, 94, 89, 92, 88, 85, 91, 96, 92, 89,
             90, 86, 93, 84, 88, 81, 87, 83, 90, 80, 85, 78, 92, 87, 83, 83, 80, 86, 79, 84, 77, 86, 82, 89, 82, 78, 85, 88, 84, 80,
             81, 77, 84, 74, 79, 71, 78, 74, 81, 70, 75, 67, 83, 78, 74, 72, 69, 76, 76, 71, 79, 69, 73, 66, 80, 75, 71, 73, 68, 77,
             71, 67, 73, 64, 69, 61, 68, 63, 66, 60, 65, 57, 74, 69, 65, 62, 59, 66, 66, 61, 69, 58, 62, 65, 70, 66, 61, 63, 59, 66,
             61, 58, 63, 57, 60, 54, 59, 62, 56, 51, 55, 58, 63, 59, 61, 56, 53, 58, 50, 54, 57, 58, 61, 56, 60, 57, 62, 55, 58, 53]
TMAX_2020 = [70, 76, 81, 83, 79, 73, 62, 68, 74, 78, 84, 80, 89, 85, 80, 66, 72, 77, 75, 81, 86, 59, 67, 74, 85, 81, 88, 72, 78, 84,
             81, 86, 84, 88, 83, 90, 76, 82, 87, 94, 89, 85, 84, 88, 92, 79, 85, 90, 91, 87, 93, 86, 90, 95, 73, 82, 88, 90, 94, 97,
             96, 92, 98, 90, 95, 100, 101, 97, 93, 94, 99, 102, 88, 93, 98, 99, 104, 100, 104, 99, 95, 92, 97, 101, 97, 101, 95, 102, 98, 104,
             103, 106, 101, 100, 104, 107, 107, 103, 109, 105, 101, 108, 110, 106, 103, 101, 105, 108, 106, 102, 109, 99, 104, 107, 108, 105, 111, 104, 107, 102,
             109, 106, 111, 106, 110, 103, 112, 108, 105, 104, 109, 111, 113, 109, 106, 108, 104, 110, 111, 107, 103, 105, 109, 112, 110, 106, 108, 107, 103, 105,
             107, 104, 109, 102, 106, 100, 105, 101, 108, 100, 104, 98, 109, 105, 102, 103, 99, 106, 98, 102, 95, 106, 103, 100, 101, 97, 104, 104, 100, 97,
             99, 96, 101, 94, 98, 91, 102, 97, 93, 90, 94, 98, 97, 93, 89, 92, 96, 99, 100, 95, 91, 89, 93, 96, 96, 92, 88, 93, 97, 90,
             91, 88, 94, 85, 89, 83, 88, 84, 91, 82, 86, 80, 90, 87, 84, 86, 82, 88, 80, 85, 78, 89, 86, 83, 84, 81, 87, 87, 83, 79,
             82, 78, 85, 75, 80, 72, 79, 74, 82, 70, 75, 68, 84, 79, 76, 73, 70, 77, 77, 72, 80, 68, 73, 71, 80, 76, 72, 72, 69, 76,
             72, 68, 74, 64, 69, 61, 69, 65, 72, 61, 66, 58, 74, 70, 66, 66, 62, 69, 62, 58, 65, 70, 66, 63, 60, 64, 57, 67, 63, 70,
             63, 60, 66, 58, 61, 56, 61, 58, 64, 57, 60, 62, 65, 61, 58, 59, 56, 62, 56, 60, 58, 62, 59, 57, 60, 63, 58, 64, 61, 59]

# flood days
FLOOD_WIND_DATES = ["2015-07-16", "2015-07-26", "2015-07-27", "2015-08-03", "2015-08-10",
                    "2015-08-20", "2015-09-20", "2015-10-04", "2015-10-18",
                    "2016-06-28", "2016-07-02", "2016-07-29", "2016-07-30", "2016-07-31", "2016-08-03",
                    "2017-07-20", "2017-07-21", "2017-07-22", "2017-07-23", "2017-07-24",
                    "2017-07-25", "2017-07-26", "2017-07-27", "2017-08-14", "2017-08-18",
                    "2018-07-08", "2018-07-09", "2018-08-07", "2018-08-08", "2018-08-15",
                    "2018-08-22", "2018-08-26", "2018-09-24", "2018-10-01", "2018-10-22",
                    "2019-07-13", "2019-07-28", "2019-07-31", "2019-08-19", "2019-08-29", "2019-09-16",
                    "2020-07-20", "2020-08-14", "2020-08-15", "2020-08-25", "2020-09-03"]
FLOOD_WIND_MPH = [9.4, 9.6, 8.5, 6.5, 9.8, 9.2, 5.8, 6.7, 4.7,
                  7.4, 7.0, 6.0, 8.2, 7.0, 6.3,
                  4.7, 6.8, 8.3, 7.6, 5.9, 4.9, 3.8, 8.0, 6.8, 6.5,
                  9.8, 4.7, 8.7, 7.8, 6.8, 6.5, 8.6, 7.6, 8.9, 17.0,
                  6.3, 9.6, 4.3, 10.3, 8.5, 8.7,
                  8.5, 9.4, 6.9, 8.3, 13.2]

FLOOD_DIR_DATES = ["2015-07-31", "2015-08-04", "2015-08-11", "2015-08-22", "2015-09-06",
                   "2015-09-17", "2015-10-05", "2015-10-23",
                   "2016-06-28", "2016-06-29", "2016-07-27", "2016-08-04", "2016-08-04",
                   "2016-08-05", "2016-08-11",
                   "2017-07-13", "2017-07-16", "2017-07-20", "2017-07-24", "2017-07-24", "2017-07-27",
                   "2017-07-27", "2017-07-31", "2017-07-31", "2017-08-07", "2017-08-14", "2017-08-26",
                   "2018-07-09", "2018-07-09", "2018-08-11", "2018-08-11", "2018-08-18", "2018-08-22",
                   "2018-08-22", "2018-08-26", "2018-09-06", "2018-09-17", "2018-10-01", "2018-10-23",
                   "2019-07-11", "2019-07-31", "2019-07-31", "2019-08-26", "2019-09-02",
                   "2019-09-17", "2019-09-28",
                   "2020-07-24", "2020-08-15", "2020-08-18", "2020-08-29", "2020-09-09"]
FLOOD_DIR_DEG = [350, 20, 120, 190, 140, 70, 250, 290,
                 260, 130, 100, 210, 140, 130, 200,
                 120, 250, 360, 190, 160, 270, 20, 280, 110, 120, 100, 200,
                 350, 100, 150, 80, 270, 250, 220, 30, 80, 350, 180, 130,
                 310, 230, 200, 200, 180, 280, 130,
                 150, 330, 190, 200, 280]

FLOOD_TMAX_DATES = ["2015-07-22", "2015-08-04", "2015-08-15", "2015-08-22", "2015-08-26",
                    "2015-09-13", "2015-10-01", "2015-10-12",
                    "2016-06-25", "2016-07-05", "2016-07-27", "2016-07-28", "2016-07-31",
                    "2016-08-01", "2016-08-04",
                    "2017-07-06", "2017-07-14", "2017-07-18", "2017-07-20", "2017-07-24",
                    "2017-07-28", "2017-08-02", "2017-08-08", "2017-08-16",
                    "2018-07-02", "2018-07-13", "2018-07-20", "2018-08-18", "2018-08-18", "2018-08-19",
                    "2018-08-22", "2018-08-26", "2018-09-28", "2018-10-09", "2018-10-27",
                    "2019-07-16", "2019-07-31", "2019-07-31", "2019-08-15", "2019-09-06",
                    "2019-09-20", "2019-09-24",
                    "2020-07-20", "2020-08-18", "2020-08-19", "2020-08-29", "2020-09-09"]
FLOOD_TMAX_F = [103, 100, 99, 98, 92, 81, 81, 71,
                102, 86, 106, 84, 93, 92, 90,
                102, 91, 97, 95, 89, 94, 96, 97, 92,
                105, 91, 105, 102, 98, 91, 93, 95, 83, 88, 86,
                106, 99, 94, 105, 104, 88, 76,
                87, 110, 107, 99, 95]

X_RANGE = ["2014-09-14", "2021-04-23"]
X_TICKS = ["2016-01-01", "2018-01-01", "2020-01-01"]
X_TICKTEXT = ["2016", "2018", "2020"]
X_MINOR = ["2015-01-01", "2017-01-01", "2019-01-01", "2021-01-01"]


def season_dates(year, n):
    start = pd.Timestamp(f"{year}-{SEASON_START}")
    return start + pd.to_timedelta(np.arange(n) * STEP_DAYS, unit="D")


def stack_years(series):
    dates, vals = [], []
    for year, v in zip(YEARS, series):
        dates.extend(season_dates(year, len(v)))
        vals.extend(v)
    return dates, vals


wind_x, wind_y = stack_years([WIND_2015, WIND_2016, WIND_2017, WIND_2018, WIND_2019, WIND_2020])
dir_x, dir_y = stack_years([DIR_2015, DIR_2016, DIR_2017, DIR_2018, DIR_2019, DIR_2020])
tmax_x, tmax_y = stack_years([TMAX_2015, TMAX_2016, TMAX_2017, TMAX_2018, TMAX_2019, TMAX_2020])

# ---------------- layout helpers (pixel positions on the page) ----------------
W, H = 1325, 935


def px_x(a, b):
    return [a / W, b / W]


def px_y(top, bottom):
    return [1 - bottom / H, 1 - top / H]


panels = [
    ("", px_x(64, 652), px_y(80, 417), [1.2, 22.9], [5, 10, 15, 20], [2.5, 7.5, 12.5, 17.5, 22.5],
     wind_x, wind_y, FLOOD_WIND_DATES, FLOOD_WIND_MPH),
    ("2", px_x(744, 1318), px_y(80, 420), [-7.5, 377.5], [0, 100, 200, 300], [50, 150, 250, 350],
     dir_x, dir_y, FLOOD_DIR_DATES, FLOOD_DIR_DEG),
    ("3", px_x(74, 470), px_y(542, 878), [44.6, 119.4], [60, 80, 100], [50, 70, 90, 110],
     tmax_x, tmax_y, FLOOD_TMAX_DATES, FLOOD_TMAX_F),
]

fig = go.Figure()
layout_axes = {}
for i, (suf, xdom, ydom, yrng, yt, ym, bx, by, fx, fy) in enumerate(panels):
    last = i == len(panels) - 1
    fig.add_trace(go.Scatter(
        x=bx, y=by, mode="markers", xaxis="x" + suf, yaxis="y" + suf,
        name="no flood", legendgroup="noflood", legendrank=2, showlegend=last,
        marker=dict(symbol="circle-open", size=9, color=GRAY,
                    line=dict(width=1.3, color=GRAY)),
        hoverinfo="skip"))
    fig.add_trace(go.Scatter(
        x=fx, y=fy, mode="markers", xaxis="x" + suf, yaxis="y" + suf,
        name="flood", legendgroup="flood", legendrank=1, showlegend=last,
        marker=dict(symbol="circle", size=11, color=BLUE, line=dict(width=0)),
        hoverinfo="skip"))

    common = dict(showline=False, zeroline=False, ticks="",
                  tickfont=dict(family=FONT, size=14, color=TICK_COLOR),
                  showgrid=True, gridcolor=GRID_MAJOR, gridwidth=2.4,
                  ticklabelstandoff=8)
    layout_axes["xaxis" + suf] = dict(
        common, domain=xdom, anchor="y" + suf, type="date", range=X_RANGE,
        tickmode="array", tickvals=X_TICKS, ticktext=X_TICKTEXT,
        minor=dict(tickmode="array", tickvals=X_MINOR, showgrid=True,
                   gridcolor=GRID_MINOR, gridwidth=1.2))
    layout_axes["yaxis" + suf] = dict(
        common, domain=ydom, anchor="x" + suf, range=yrng,
        tickmode="array", tickvals=yt,
        minor=dict(tickmode="array", tickvals=ym, showgrid=True,
                   gridcolor=GRID_MINOR, gridwidth=1.2))


def ann(text, x, y, size, **kw):
    d = dict(text=text, x=x / W, y=1 - y / H, xref="paper", yref="paper",
             showarrow=False, font=dict(family=FONT, size=size, color="black"))
    d.update(kw)
    return d


annotations = [
    ann("<b>A</b>", 3, 12, 17, xanchor="left", yanchor="middle"),
    ann("<b>B</b>", 667, 12, 17, xanchor="left", yanchor="middle"),
    ann("<b>C</b>", 3, 487, 17, xanchor="left", yanchor="middle"),
    ann("Average Wind Speed Years 2015\u22122020", 63, 50, 30, xanchor="left", yanchor="middle"),
    ann("Wind Direction Years 2015\u22122020", 743, 50, 30, xanchor="left", yanchor="middle"),
    ann("Maximum Temperature Years 2015\u22122020", 73, 512, 30, xanchor="left", yanchor="middle"),
    ann("Date", 358, 460, 24, xanchor="center", yanchor="middle"),
    ann("Date", 1031, 460, 24, xanchor="center", yanchor="middle"),
    ann("Date", 272, 921, 24, xanchor="center", yanchor="middle"),
    ann("Average Wind Speed (mph)", 15, 250, 24.5, xanchor="center", yanchor="middle", textangle=-90),
    ann("Direction Fastest 2 Min Wind (degrees)", 686, 249, 24.5, xanchor="center", yanchor="middle",
        textangle=-90),
    ann("Maximum Temperature (Fahrenheit)", 15, 711, 24.5, xanchor="center", yanchor="middle",
        textangle=-90),
    ann("Flood", 509, 665, 24, xanchor="left", yanchor="middle"),  # legend title
]

fig.update_layout(
    width=W, height=H,
    margin=dict(l=0, r=0, t=0, b=0),
    paper_bgcolor="white", plot_bgcolor="white",
    font=dict(family=FONT, color="black"),
    annotations=annotations,
    showlegend=True,
    legend=dict(
        x=497 / W, y=1 - 689 / H, xanchor="left", yanchor="top",
        font=dict(family=FONT, size=20, color="black"),
        itemwidth=56, tracegroupgap=10, bgcolor="rgba(0,0,0,0)"),
    **layout_axes,
)

# the figure is sized to the whole window, so drop the page's default body margin
fig.write_html("out.html", config={"displayModeBar": False},
               post_script="document.body.style.margin = '0';")
